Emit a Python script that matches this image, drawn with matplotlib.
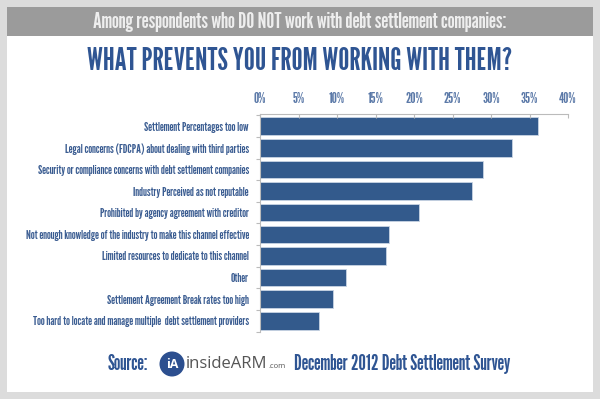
import matplotlib
matplotlib.use('Agg')
from matplotlib import pyplot as plt
from matplotlib.patches import Rectangle, Ellipse

plt.rcParams['font.family'] = ['League Gothic', 'DejaVu Sans']

reasons = [
    'Settlement Percentages too low',
    'Legal concerns (FDCPA) about dealing with third parties',
    'Security or compliance concerns with debt settlement companies',
    'Industry Perceived as not reputable',
    'Prohibited by agency agreement with creditor',
    'Not enough knowledge of the industry to make this channel effective',
    'Limited resources to dedicate to this channel',
    'Other',
    'Settlement Agreement Break rates too high',
    'Too hard to locate and manage multiple  debt settlement providers',
]
percents = [36.1, 32.7, 28.9, 27.5, 20.6, 16.8, 16.4, 11.2, 9.5, 7.7]
x_ticks = [0, 5, 10, 15, 20, 25, 30, 35, 40]

BAR = '#335a8c'
BLUE = '#2f5593'
W, H = 600, 399


def fx(px):
    return px / W


def fy(py):
    return 1 - py / H


fig = plt.figure(figsize=(6, 3.99), dpi=100)
fig.patch.set_facecolor('#dcdcdc')

# white card + gray header band
fig.add_artist(Rectangle((fx(7), fy(392)), fx(586), (392 - 7) / H,
                         transform=fig.transFigure, facecolor='white', edgecolor='none', zorder=0))
fig.add_artist(Rectangle((fx(7), fy(36)), fx(586), (36 - 7) / H,
                         transform=fig.transFigure, facecolor='#9b9b9b', edgecolor='none', zorder=0))

fig.text(0.5, fy(22), 'Among respondents who DO NOT work with debt settlement companies:',
         ha='center', va='center', fontsize=16, color='#eeeeee')
fig.text(0.5, fy(62), 'WHAT PREVENTS YOU FROM WORKING WITH THEM?',
         ha='center', va='center', fontsize=22.3, color=BLUE)

ax = fig.add_axes([fx(260), fy(331.7), fx(308), (331.7 - 114) / H])
ax.set_facecolor('white')
ypos = list(range(len(reasons)))
ax.barh(ypos, percents, height=0.81, color=BAR, edgecolor='#c9d4e3', linewidth=0.6)

ax.set_xlim(0, 40)
ax.set_ylim(9.45, -0.56)
ax.xaxis.tick_top()
ax.set_xticks(x_ticks)
ax.set_xticklabels([f'{t}%' for t in x_ticks])
ax.set_yticks(ypos)
ax.set_yticklabels(reasons)
ax.set_yticks([i + 0.5 for i in range(-1, len(reasons))], minor=True)

ax.tick_params(axis='x', colors='#bbbbbb', labelcolor='#5b79a8', labelsize=10.5,
               length=3, width=0.8, direction='in', pad=6)
ax.tick_params(axis='y', which='major', length=0, labelcolor='#3a5c91', labelsize=9, pad=8)
ax.tick_params(axis='y', which='minor', length=3, width=0.8, color='#bbbbbb')

for side in ['right', 'bottom']:
    ax.spines[side].set_visible(False)
for side in ['top', 'left']:
    ax.spines[side].set_color('#bbbbbb')
    ax.spines[side].set_linewidth(0.8)

# footer
fig.text(fx(108), fy(364), 'Source:', ha='left', va='center', fontsize=15, color=BLUE)
fig.add_artist(Ellipse((fx(172), fy(364)), fx(25), 25 / H, transform=fig.transFigure,
                       facecolor='#2c4f8f', edgecolor='none'))
fig.text(fx(172), fy(364), 'iA', ha='center', va='center', fontsize=9, color='white',
         family='Open Sans', weight='bold')
brand = fig.text(fx(186), fy(364), 'insideARM', ha='left', va='center', fontsize=12,
                 color='#555555', family='Open Sans')
renderer = fig.canvas.get_renderer()
bx = brand.get_window_extent(renderer).x1
fig.text(bx / W + fx(1), fy(367), '.com', ha='left', va='center', fontsize=5.5,
         color='#555555', family='Open Sans')
fig.text(fx(294), fy(364), 'December 2012 Debt Settlement Survey', ha='left', va='center',
         fontsize=15, color=BLUE)

fig.savefig('out.png', dpi=100, facecolor=fig.get_facecolor())
